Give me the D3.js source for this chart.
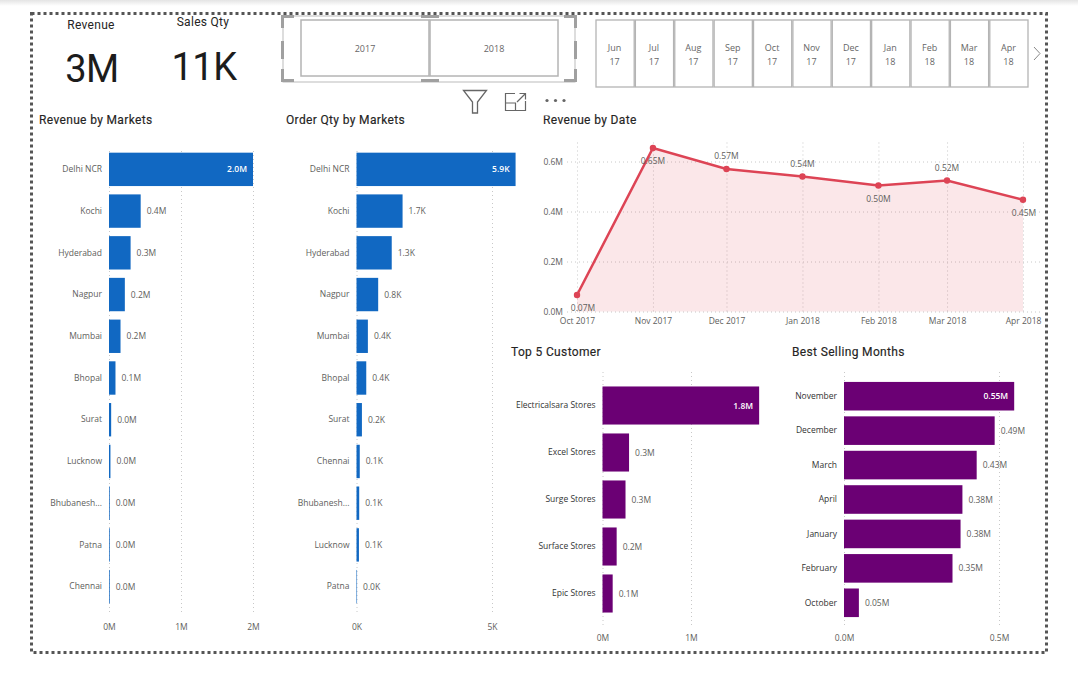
<!DOCTYPE html>
<html><head><meta charset="utf-8">
<script src="https://cdnjs.cloudflare.com/ajax/libs/d3/7.8.5/d3.min.js"></script>
<style>
html,body{margin:0;padding:0;background:#fff;overflow:hidden}
svg{display:block}
text{font-family:"Open Sans",sans-serif}
.title{font-family:Roboto,sans-serif;font-size:12px;font-weight:400;fill:#252423;letter-spacing:.35px;stroke:#252423;stroke-width:.15px}
.kpil{font-family:Roboto,sans-serif;font-size:12px;fill:#252423;letter-spacing:.3px}
.kpiv{font-family:Roboto,sans-serif;font-size:38px;fill:#1c1c1c;letter-spacing:-.5px}
.tick text{font-size:8.5px;fill:#605e5c}
.tick line{stroke:#c8c8c8;stroke-dasharray:1 3}
.lab{font-size:8.5px;fill:#605e5c}
</style></head><body>
<svg id="c" width="1078" height="676"></svg>
<script>
const marketsRevenue = ["Delhi NCR","Kochi","Hyderabad","Nagpur","Mumbai","Bhopal","Surat","Lucknow","Bhubanesh...","Patna","Chennai"];
const revenueValues = [2.0,0.44,0.30,0.22,0.16,0.09,0.03,0.02,0.01,0.01,0.01];
const marketsQty = ["Delhi NCR","Kochi","Hyderabad","Nagpur","Mumbai","Bhopal","Surat","Chennai","Bhubanesh...","Lucknow","Patna"];
const qtyValues = [5.87,1.7,1.3,0.8,0.42,0.36,0.2,0.12,0.1,0.09,0.02];
const customers = ["Electricalsara Stores","Excel Stores","Surge Stores","Surface Stores","Epic Stores"];
const customerValues = [1.77,0.30,0.26,0.16,0.115];
const months = ["November","December","March","April","January","February","October"];
const monthValues = [0.549,0.486,0.428,0.382,0.376,0.35,0.048];
const dateLabels = ["Oct 2017","Nov 2017","Dec 2017","Jan 2018","Feb 2018","Mar 2018","Apr 2018"];
const dateValues = [0.066,0.654,0.57,0.54,0.504,0.524,0.447];
const belowLabels = ["Oct 2017","Nov 2017","Feb 2018","Apr 2018"];
const years = ["2017","2018"];
const monthButtons = [["Jun","17"],["Jul","17"],["Aug","17"],["Sep","17"],["Oct","17"],["Nov","17"],["Dec","17"],["Jan","18"],["Feb","18"],["Mar","18"],["Apr","18"]];

const svg = d3.select("#c");
const BLUE="#1168c2", PURPLE="#6b0074", RED="#dd4455";

// top shadow
const defs=svg.append("defs");
const g0=defs.append("linearGradient").attr("id","sh").attr("x1",0).attr("x2",0).attr("y1",0).attr("y2",1);
g0.append("stop").attr("offset",0).attr("stop-color","#e4e4e4");
g0.append("stop").attr("offset",1).attr("stop-color","#fff");
svg.append("rect").attr("width",1078).attr("height",6).attr("fill","url(#sh)");

// dotted frame
svg.append("rect").attr("x",31.5).attr("y",13.5).attr("width",1015).attr("height",639)
  .attr("fill","none").attr("stroke","#555").attr("stroke-width",3).attr("stroke-dasharray","3 3");

// KPIs
function kpi(label,value,lx,ly,vx,vy){
  svg.append("text").attr("class","kpil").attr("x",lx).attr("y",ly).attr("text-anchor","middle").text(label);
  svg.append("text").attr("class","kpiv").attr("x",vx).attr("y",vy).attr("text-anchor","middle").text(value);
}
kpi("Revenue","3M",91,29,92,82);
kpi("Sales Qty","11K",203,26,204,80);

// Year slicer
const yearX=d3.scaleBand().domain(years).range([301,558]).paddingInner(0.008);
svg.selectAll(".yb").data(years).join("rect").attr("class","yb")
  .attr("x",d=>yearX(d)).attr("y",20).attr("width",yearX.bandwidth()).attr("height",56)
  .attr("fill","#fff").attr("stroke","#b4b4b4").attr("stroke-width",1.5);
svg.selectAll(".yt").data(years).join("text").attr("class","yt")
  .attr("x",d=>yearX(d)+yearX.bandwidth()/2).attr("y",52).attr("text-anchor","middle")
  .attr("font-size",9).attr("fill","#666").text(d=>d);
svg.append("rect").attr("x",283).attr("y",16).attr("width",292).attr("height",66).attr("fill","none").attr("stroke","#bbb").attr("stroke-width",1);
const gr="#a0a0a0";
[[281,15,13,3],[281,15,3,13],[564,15,13,3],[574,15,3,13],[281,79,13,3],[281,69,3,13],[564,79,13,3],[574,69,3,13],
 [421,15,18,3],[421,79,18,3],[281,41,3,18],[574,41,3,18]].forEach(r=>{
  svg.append("rect").attr("x",r[0]).attr("y",r[1]).attr("width",r[2]).attr("height",r[3]).attr("fill",gr);
});

// Month slicer
const monthX=d3.scaleBand().domain(monthButtons.map(d=>d[0])).range([596,1028]).paddingInner(0.03);
const mb=svg.selectAll(".mb").data(monthButtons).join("g").attr("class","mb");
mb.append("rect").attr("x",d=>monthX(d[0])).attr("y",20).attr("width",monthX.bandwidth()).attr("height",67)
  .attr("fill","#fff").attr("stroke","#b4b4b4").attr("stroke-width",1.3);
mb.append("text").attr("x",d=>monthX(d[0])+monthX.bandwidth()/2-0.5).attr("y",51).attr("text-anchor","middle").attr("font-size",9).attr("fill","#666").text(d=>d[0]);
mb.append("text").attr("x",d=>monthX(d[0])+monthX.bandwidth()/2-0.5).attr("y",65).attr("text-anchor","middle").attr("font-size",9).attr("fill","#666").text(d=>d[1]);
svg.append("path").attr("d","M1034 47l6 6.5l-6 6.5").attr("fill","none").attr("stroke","#888").attr("stroke-width",1);

// Visual header icons
svg.append("path").attr("d","M463.5 90.5h23l-9 11.5v11h-5v-11z").attr("fill","none").attr("stroke","#666").attr("stroke-width",1.3);
svg.append("path").attr("d","M515 93.5h-9.5v17h20v-9.5M505.5 103h10v7.5M517 102l8-8M519.5 93.5h6v6").attr("fill","none").attr("stroke","#666").attr("stroke-width",1.2);
[547,555.5,564].forEach(x=>svg.append("circle").attr("cx",x).attr("cy",100.5).attr("r",1.6).attr("fill","#666"));

// Bar charts
function hbar(o){
  const x=d3.scaleLinear().domain(o.domain).range(o.xr);
  const y=d3.scaleBand().domain(o.cats).range(o.yr).paddingInner(o.pad).paddingOuter(o.pad/2);
  const g=svg.append("g");
  svg.append("text").attr("class","title").attr("x",o.tx).attr("y",o.ty).text(o.title);
  const xa=g.append("g").attr("transform",`translate(0,${o.gridBottom})`)
    .call(d3.axisBottom(x).tickValues(o.ticks).tickFormat(o.tickFmt).tickSize(-(o.gridBottom-o.gridTop)).tickPadding(o.tickPad));
  xa.select(".domain").remove();
  const ya=g.append("g").attr("transform",`translate(${o.xr[0]},0)`)
    .call(d3.axisLeft(y).tickSize(0).tickPadding(7));
  ya.select(".domain").remove();
  ya.selectAll("text").style("fill",o.catColor||"#605e5c");
  g.selectAll(".bar").data(o.vals).join("rect").attr("class","bar")
    .attr("x",x(0)).attr("y",(d,i)=>y(o.cats[i])).attr("height",y.bandwidth())
    .attr("width",d=>x(d)-x(0)).attr("fill",o.color);
  g.selectAll(".lab").data(o.vals).join("text").attr("class","lab")
    .attr("x",(d,i)=>i===0?x(d)-6:x(d)+6)
    .attr("y",(d,i)=>y(o.cats[i])+y.bandwidth()/2+3)
    .attr("text-anchor",(d,i)=>i===0?"end":"start")
    .style("fill",(d,i)=>i===0?"#fff":null)
    .style("font-weight",(d,i)=>i===0?"600":null)
    .text(o.labFmt);
}
hbar({title:"Revenue by Markets",tx:39,ty:124,cats:marketsRevenue,vals:revenueValues,domain:[0,2],xr:[109,253],
  yr:[148.5,607.5],pad:0.2,color:BLUE,ticks:[0,1,2],tickFmt:d=>d+"M",labFmt:d=>d.toFixed(1)+"M",gridTop:150,gridBottom:612,tickPad:12});
hbar({title:"Order Qty by Markets",tx:286,ty:124,cats:marketsQty,vals:qtyValues,domain:[0,5],xr:[356.5,492],
  yr:[148.5,607.5],pad:0.2,color:BLUE,ticks:[0,5],tickFmt:d=>d+"K",labFmt:d=>d.toFixed(1)+"K",gridTop:150,gridBottom:612,tickPad:12});
hbar({title:"Top 5 Customer",tx:511,ty:356,cats:customers,vals:customerValues,domain:[0,1],xr:[602.5,691],
  yr:[382,617],pad:0.19,color:PURPLE,ticks:[0,1],tickFmt:d=>d+"M",labFmt:d=>d.toFixed(1)+"M",gridTop:372,gridBottom:625,tickPad:10,catColor:"#333"});
hbar({title:"Best Selling Months",tx:792,ty:356,cats:months,vals:monthValues,domain:[0,0.5],xr:[844,999],
  yr:[379,620],pad:0.17,color:PURPLE,ticks:[0,0.5],tickFmt:d=>d.toFixed(1)+"M",labFmt:d=>d.toFixed(2)+"M",gridTop:372,gridBottom:625,tickPad:10,catColor:"#333"});

// Line / area chart
svg.append("text").attr("class","title").attr("x",543).attr("y",124).text("Revenue by Date");
svg.append("rect").attr("x",541).attr("y",110).attr("width",40).attr("height",5.5).attr("fill","#fff");
const parse=d3.timeParse("%b %Y");
const dates=dateLabels.map(parse);
const lx=d3.scaleTime().domain(d3.extent(dates)).range([577,1023]);
const ly=d3.scaleLinear().domain([0,0.6]).range([311.5,161.5]);
const lg=svg.append("g");
const gx=lg.append("g").attr("transform","translate(0,311.5)")
  .call(d3.axisBottom(lx).tickValues(dates).tickFormat(d3.timeFormat("%b %Y")).tickSize(-172).tickPadding(6));
gx.select(".domain").remove();
const gy=lg.append("g").attr("transform","translate(577,0)")
  .call(d3.axisLeft(ly).tickValues([0,0.2,0.4,0.6]).tickFormat(d=>d.toFixed(1)+"M").tickSize(-465).tickPadding(14));
gy.select(".domain").remove();
gy.selectAll(".tick line").attr("x1",-10);
const pts=dates.map((d,i)=>[d,dateValues[i]]);
lg.append("path").datum(pts).attr("fill",RED).attr("fill-opacity",0.13)
  .attr("d",d3.area().x(d=>lx(d[0])).y0(ly(0)).y1(d=>ly(d[1])));
lg.append("path").datum(pts).attr("fill","none").attr("stroke",RED).attr("stroke-width",2.5)
  .attr("d",d3.line().x(d=>lx(d[0])).y(d=>ly(d[1])));
lg.selectAll(".pt").data(pts).join("circle").attr("class","pt").attr("cx",d=>lx(d[0])).attr("cy",d=>ly(d[1])).attr("r",3.2).attr("fill",RED);
lg.selectAll(".ll").data(pts).join("text").attr("class","lab ll").attr("text-anchor","middle")
  .attr("x",(d,i)=>lx(d[0])+(i===0?6:0)+(i===6?1:0))
  .attr("y",(d,i)=>belowLabels.includes(dateLabels[i])?ly(d[1])+16:ly(d[1])-10)
  .text(d=>d[1].toFixed(2)+"M");
</script>
</body></html>
